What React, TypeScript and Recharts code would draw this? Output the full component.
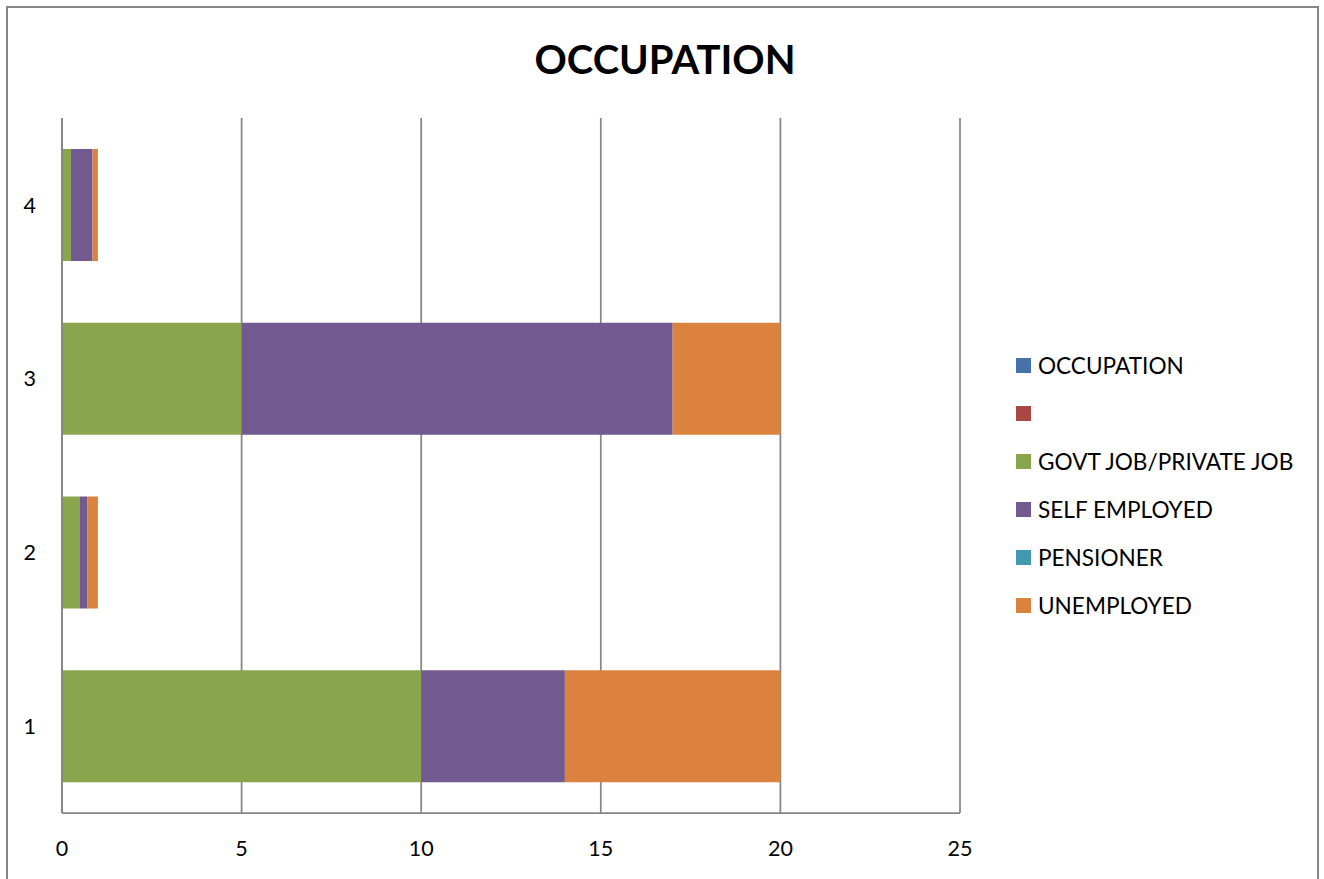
import React from "react";
import { BarChart, Bar, XAxis, YAxis, CartesianGrid } from "recharts";

// categories along the vertical axis, bottom to top
const categories = ["1", "2", "3", "4"];

// series values per category
const occupation = [0, 0, 0, 0];
const blank = [0, 0, 0, 0];
const govtJob = [10, 0.5, 5, 0.25];
const selfEmployed = [4, 0.2, 12, 0.6];
const pensioner = [0, 0, 0, 0];
const unemployed = [6, 0.3, 3, 0.15];

const xTicks = [0, 5, 10, 15, 20, 25];

const series = [
  { key: "occupation", name: "OCCUPATION", color: "#4672a8", values: occupation },
  { key: "blank", name: "", color: "#aa4643", values: blank },
  { key: "govtJob", name: "GOVT JOB/PRIVATE JOB", color: "#8aa64c", values: govtJob },
  { key: "selfEmployed", name: "SELF EMPLOYED", color: "#72598f", values: selfEmployed },
  { key: "pensioner", name: "PENSIONER", color: "#4198af", values: pensioner },
  { key: "unemployed", name: "UNEMPLOYED", color: "#dc823f", values: unemployed },
];

const data = categories.map((name, i) => {
  const row: Record<string, string | number> = { name };
  series.forEach((s) => {
    row[s.key] = s.values[i];
  });
  return row;
});

const FONT = "Lato, 'Open Sans', sans-serif";
const GRID = "#868686";

export default function App() {
  return (
    <div
      style={{
        position: "absolute",
        left: 6,
        top: 6,
        width: 1309,
        height: 880,
        border: `2px solid ${GRID}`,
        background: "#fff",
        fontFamily: FONT,
      }}
    >
      <div
        style={{
          position: "absolute",
          left: 0,
          width: 1314,
          top: 27,
          textAlign: "center",
          fontSize: 40,
          fontWeight: 700,
          lineHeight: "48px",
          color: "#000",
        }}
      >
        OCCUPATION
      </div>

      <BarChart
        layout="vertical"
        width={1309}
        height={880}
        data={data}
        margin={{ top: 110, right: 357, bottom: 35, left: 0 }}
      >
        <CartesianGrid
          horizontal={false}
          vertical
          stroke={GRID}
          strokeWidth={1.75}
        />
        <XAxis
          type="number"
          domain={[0, 25]}
          ticks={xTicks}
          interval={0}
          height={40}
          tickLine={false}
          tickSize={0}
          tickMargin={28}
          axisLine={{ stroke: GRID, strokeWidth: 1.75 }}
          tick={{ fill: "#000", fontSize: 21.5, fontFamily: FONT }}
        />
        <YAxis
          type="category"
          dataKey="name"
          reversed
          width={54}
          tickLine={false}
          tickSize={0}
          tickMargin={26}
          axisLine={{ stroke: GRID, strokeWidth: 1.75 }}
          tick={{ fill: "#000", fontSize: 21.5, fontFamily: FONT }}
        />
        {series.map((s) => (
          <Bar
            key={s.key}
            dataKey={s.key}
            name={s.name}
            stackId="occ"
            fill={s.color}
            barSize={112}
            isAnimationActive={false}
          />
        ))}
      </BarChart>

      <div style={{ position: "absolute", left: 1008, top: 333 }}>
        {series.map((s) => (
          <div
            key={s.key}
            style={{
              display: "flex",
              alignItems: "center",
              height: 48,
              fontSize: 22.6,
              color: "#000",
              whiteSpace: "nowrap",
            }}
          >
            <span
              style={{
                display: "inline-block",
                width: 15,
                height: 15,
                background: s.color,
                marginRight: 7,
              }}
            />
            {s.name}
          </div>
        ))}
      </div>
    </div>
  );
}
